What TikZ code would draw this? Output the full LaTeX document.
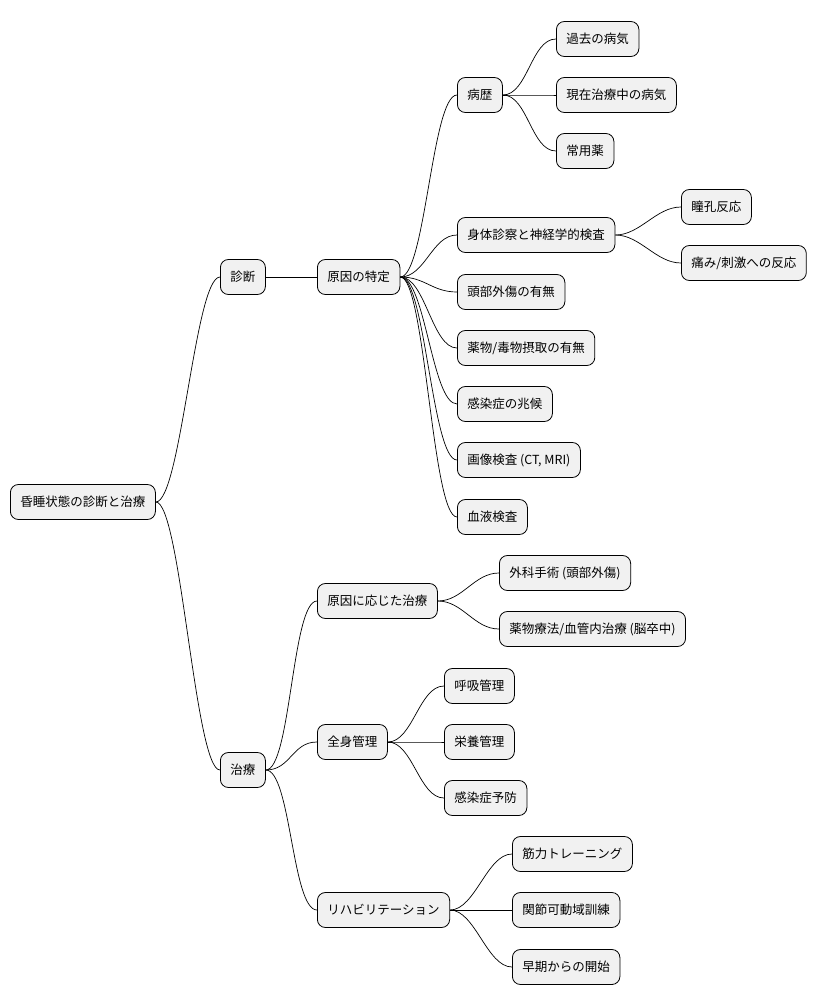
\documentclass[tikz,border=0pt]{standalone}
\usepackage{fontspec}
\setmainfont{Noto Sans CJK JP}
\begin{document}
\begin{tikzpicture}[x=1pt,y=-1pt,
  box/.style={draw=black,line width=0.8pt,fill={rgb,255:red,241;green,241;blue,241},rounded corners=8pt,
    anchor=west,minimum height=35pt,inner xsep=10pt,font=\fontsize{12.5}{14}\selectfont},
  ln/.style={line width=0.7pt}]
\useasboundingbox (0,0) rectangle (829,1006);
\newcommand\nd[4]{\node[box] (#1) at (#2,#3) {#4};}
\nd{r}{10}{502}{昏睡状態の診断と治療}
\nd{d}{220}{277}{診断}
\nd{t}{220}{770}{治療}
\nd{g}{317}{277}{原因の特定}
\nd{b}{457}{95}{病歴}
\nd{b1}{556}{39}{過去の病気}
\nd{b2}{556}{95}{現在治療中の病気}
\nd{b3}{556}{151}{常用薬}
\nd{s}{457}{235}{身体診察と神経学的検査}
\nd{s1}{681}{207}{瞳孔反応}
\nd{s2}{681}{263}{痛み/刺激への反応}
\nd{g3}{457}{292}{頭部外傷の有無}
\nd{g4}{457}{348}{薬物/毒物摂取の有無}
\nd{g5}{457}{404}{感染症の兆候}
\nd{g6}{457}{460}{画像検査 (CT, MRI)}
\nd{g7}{457}{517}{血液検査}
\nd{c}{317}{601}{原因に応じた治療}
\nd{c1}{499}{573}{外科手術 (頭部外傷)}
\nd{c2}{499}{629}{薬物療法/血管内治療 (脳卒中)}
\nd{z}{317}{742}{全身管理}
\nd{z1}{444}{686}{呼吸管理}
\nd{z2}{444}{742}{栄養管理}
\nd{z3}{444}{798}{感染症予防}
\nd{h}{317}{910}{リハビリテーション}
\nd{h1}{512}{854}{筋力トレーニング}
\nd{h2}{512}{910}{関節可動域訓練}
\nd{h3}{512}{967}{早期からの開始}
\newcommand\cn[2]{\draw[ln] (#1.east) .. controls +(25,0) and +(-25,0) .. (#2.west);}
\foreach \p/\q in {r/d,r/t,d/g,g/b,b/b1,b/b2,b/b3,g/s,s/s1,s/s2,g/g3,g/g4,g/g5,g/g6,g/g7,
  t/c,c/c1,c/c2,t/z,z/z1,z/z2,z/z3,t/h,h/h1,h/h2,h/h3}{\cn{\p}{\q}}
\end{tikzpicture}
\end{document}
